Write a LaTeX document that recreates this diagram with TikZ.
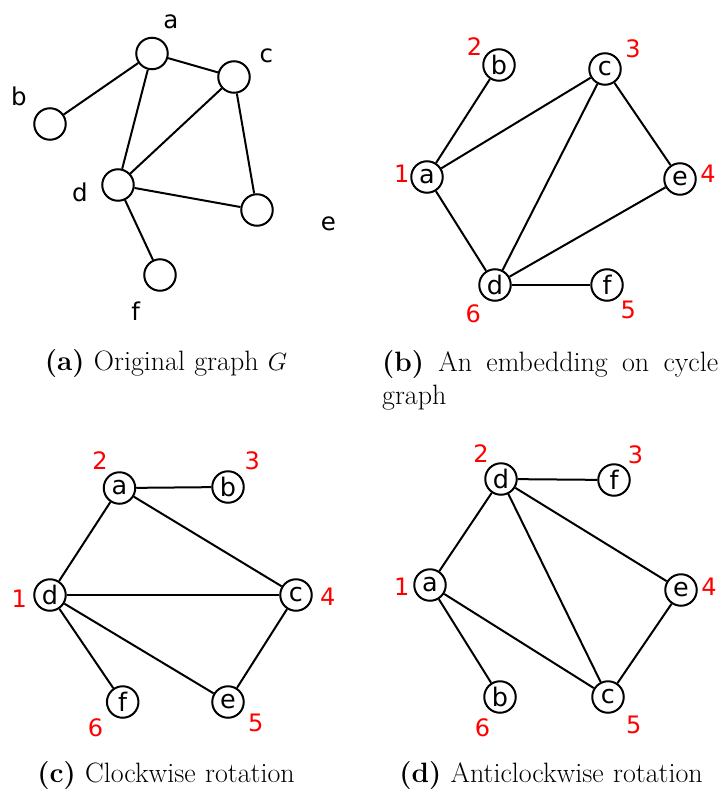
\documentclass[tikz,border=0pt]{standalone}
\usepackage{fontspec}
\newfontfamily\nodefont{DejaVu Sans}
\begin{document}
\begin{tikzpicture}[x=1pt,y=-1pt,
  vtx/.style={draw, circle, line width=2pt, minimum size=31.5pt, inner sep=0pt, font=\nodefont\fontsize{25.5}{30}\selectfont},
  lbl/.style={inner sep=0pt, font=\nodefont\fontsize{24.5}{29}\selectfont},
  num/.style={inner sep=0pt, text=red, font=\nodefont\fontsize{24}{28}\selectfont},
  ln/.style={line width=2pt},
  captxt/.style={inner sep=0pt, text width=336pt, font=\fontsize{28}{33.6}\selectfont}]
\useasboundingbox (0,0) rectangle (723,795);

% ---------- (a) original graph ----------
\node[vtx] (a1) at (152,53.5) {};
\node[vtx] (b1) at (50,124) {};
\node[vtx] (c1) at (234,77) {};
\node[vtx] (d1) at (118,185) {};
\node[vtx] (e1) at (257,210) {};
\node[vtx] (f1) at (160,275) {};
\node[lbl] (la1) at (171,21.7) {a};
\node[lbl] (lb1) at (18.8,96.3) {b};
\node[lbl] (lc1) at (266.3,55.5) {c};
\node[lbl] (ld1) at (80,192.2) {d};
\node[lbl] (le1) at (328.3,224) {e};
\node[lbl] (lf1) at (135.8,311) {f};
\draw[ln] (a1) -- (b1);
\draw[ln] (a1) -- (c1);
\draw[ln] (a1) -- (d1);
\draw[ln] (c1) -- (d1);
\draw[ln] (c1) -- (e1);
\draw[ln] (d1) -- (e1);
\draw[ln] (d1) -- (f1);

% ---------- (b) embedding ----------
\node[vtx] (a2) at (427,177) {a};
\node[vtx] (b2) at (499,65) {b};
\node[vtx] (c2) at (605,69) {c};
\node[vtx] (d2) at (495,285) {d};
\node[vtx] (e2) at (680,179) {e};
\node[vtx] (f2) at (607,285) {f};
\node[num] (n12) at (401.7,173.3) {1};
\node[num] (n22) at (474.5,47) {2};
\node[num] (n32) at (633,49) {3};
\node[num] (n42) at (708,174) {4};
\node[num] (n52) at (628.3,310) {5};
\node[num] (n62) at (473.3,313.8) {6};
\draw[ln] (a2) -- (b2);
\draw[ln] (a2) -- (c2);
\draw[ln] (a2) -- (d2);
\draw[ln] (c2) -- (d2);
\draw[ln] (c2) -- (e2);
\draw[ln] (d2) -- (e2);
\draw[ln] (d2) -- (f2);

% ---------- (c) clockwise rotation ----------
\node[vtx] (a3) at (119.5,488) {a};
\node[vtx] (b3) at (228,487) {b};
\node[vtx] (c3) at (296,595) {c};
\node[vtx] (d3) at (50,595) {d};
\node[vtx] (e3) at (228,702) {e};
\node[vtx] (f3) at (122.7,702) {f};
\node[num] (n13) at (19.3,598.5) {1};
\node[num] (n23) at (100,460.5) {2};
\node[num] (n33) at (252.2,461.2) {3};
\node[num] (n43) at (327.8,596.7) {4};
\node[num] (n53) at (255.8,722.5) {5};
\node[num] (n63) at (95.5,727.5) {6};
\draw[ln] (a3) -- (b3);
\draw[ln] (a3) -- (c3);
\draw[ln] (a3) -- (d3);
\draw[ln] (c3) -- (d3);
\draw[ln] (c3) -- (e3);
\draw[ln] (d3) -- (e3);
\draw[ln] (d3) -- (f3);

% ---------- (d) anticlockwise rotation ----------
\node[vtx] (a4) at (430,585) {a};
\node[vtx] (b4) at (500,697) {b};
\node[vtx] (c4) at (608,697) {c};
\node[vtx] (d4) at (501,479) {d};
\node[vtx] (e4) at (681,590) {e};
\node[vtx] (f4) at (614,480) {f};
\node[num] (n14) at (401.7,586.7) {1};
\node[num] (n24) at (481,453.8) {2};
\node[num] (n34) at (635.5,454.5) {3};
\node[num] (n44) at (709,586.7) {4};
\node[num] (n54) at (633.7,724.5) {5};
\node[num] (n64) at (482.5,727.5) {6};
\draw[ln] (a4) -- (b4);
\draw[ln] (a4) -- (c4);
\draw[ln] (a4) -- (d4);
\draw[ln] (c4) -- (d4);
\draw[ln] (c4) -- (e4);
\draw[ln] (d4) -- (e4);
\draw[ln] (d4) -- (f4);

% ---------- captions ----------
\node[captxt, align=center, anchor=north] (capa) at (166,349.7) {\textbf{(a)} Original graph $G$};
\node[captxt, align=justify, anchor=north west] (capb) at (382,350) {\textbf{(b)} An embedding on cycle graph};
\node[captxt, align=center, anchor=north] (capc) at (166,761.3) {\textbf{(c)} Clockwise rotation};
\node[captxt, align=center, anchor=north] (capd) at (551,761.3) {\textbf{(d)} Anticlockwise rotation};
\end{tikzpicture}
\end{document}
